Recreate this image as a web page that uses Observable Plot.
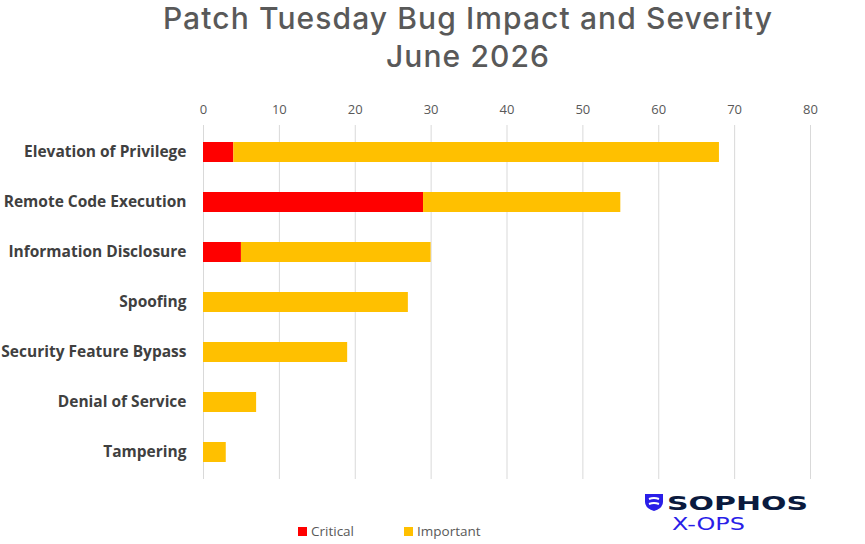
<!DOCTYPE html>
<html>
<head>
<meta charset="utf-8">
<script src="https://cdn.jsdelivr.net/npm/d3@7"></script>
<script src="https://cdn.jsdelivr.net/npm/@observablehq/plot@0.6"></script>
<style>
  html, body { margin: 0; padding: 0; background: #fff; }
  #wrap { position: relative; width: 865px; height: 544px; overflow: hidden; font-family: "Open Sans", "Noto Sans", sans-serif; }
  .title { position: absolute; left: 468px; transform: translateX(-50%); text-align: center; color: #595959; font-family: Inter, "Open Sans", sans-serif; font-weight: 500; font-size: 30px; line-height: 37px; letter-spacing: 1.1px; white-space: nowrap; }
  #chart { position: absolute; left: 0; top: 0; }
  #legend { position: absolute; top: 522px; left: 298px; font-size: 13.5px; color: #595959; display: flex; }
  #legend .item { display: flex; align-items: center; }
  #legend .sw { width: 9px; height: 9px; margin-right: 4px; }
  #logo { position: absolute; left: 644px; top: 491px; }
</style>
</head>
<body>
<div id="wrap">
  <div id="chart"></div>
  <div class="title" style="top:0px">Patch Tuesday Bug Impact and Severity</div>
  <div class="title" style="top:38px">June 2026</div>
  <div id="legend"></div>
  <svg id="logo" width="170" height="44" viewBox="0 0 170 44">
    <path d="M1 3 H19 V11 Q19 17 10 20 Q1 17 1 11 Z" fill="#2a1ee8"/>
    <path d="M5 8 Q10 6 15 8 M5 13 Q10 11 15 13" stroke="#fff" stroke-width="2" fill="none"/>
    <text x="23" y="18.5" textLength="141" lengthAdjust="spacingAndGlyphs" font-family="DejaVu Sans, sans-serif" font-weight="bold" font-size="20" fill="#0a1a3e">SOPHOS</text>
    <text x="28" y="39" textLength="73" lengthAdjust="spacingAndGlyphs" font-family="DejaVu Sans, sans-serif" font-size="18" fill="#2a1ee8">X-OPS</text>
  </svg>
</div>
<script>
const categories = ["Elevation of Privilege", "Remote Code Execution", "Information Disclosure", "Spoofing", "Security Feature Bypass", "Denial of Service", "Tampering"];
const critical = [4, 29, 5, 0, 0, 0, 0];
const important = [64, 26, 25, 27, 19, 7, 3];
const severities = ["Critical", "Important"];
const colors = ["#FF0000", "#FFC000"];
const xTicks = [0, 10, 20, 30, 40, 50, 60, 70, 80];

const rows = [];
categories.forEach((c, i) => {
  rows.push({category: c, severity: "Critical", value: critical[i]});
  rows.push({category: c, severity: "Important", value: important[i]});
});

const chart = Plot.plot({
  width: 865,
  height: 544,
  marginLeft: 203,
  marginRight: 55,
  marginTop: 125,
  marginBottom: 65,
  style: {fontFamily: "'Open Sans', 'Noto Sans', sans-serif", background: "#fff"},
  x: {domain: [0, 80], ticks: xTicks, label: null},
  y: {domain: categories, paddingInner: 0.6, paddingOuter: 0.3, label: null},
  color: {domain: severities, range: colors},
  marks: [
    Plot.gridX(xTicks, {stroke: "#D9D9D9", strokeOpacity: 1, strokeWidth: 1}),
    Plot.barX(rows, Plot.stackX({y: "category", x: "value", fill: "severity", order: severities})),
    Plot.axisX(xTicks, {anchor: "top", tickSize: 0, tickPadding: 12, fontSize: 13, fill: "#595959", label: null}),
    Plot.axisY({tickSize: 0, tickPadding: 17, fontSize: 15.5, fontWeight: "bold", fill: "#404040", label: null})
  ]
});
document.getElementById("chart").appendChild(chart);

const legend = document.getElementById("legend");
severities.forEach((s, i) => {
  const it = document.createElement("div");
  it.className = "item";
  it.style.width = i === 0 ? "106px" : "auto";
  it.innerHTML = `<span class="sw" style="background:${colors[i]}"></span><span>${s}</span>`;
  legend.appendChild(it);
});
</script>
</body>
</html>
